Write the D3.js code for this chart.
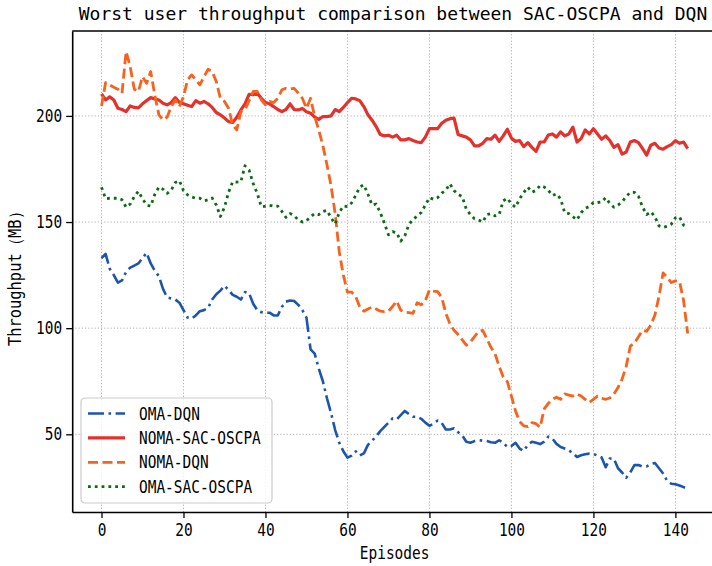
<!DOCTYPE html>
<html>
<head>
<meta charset="utf-8">
<script src="https://cdn.jsdelivr.net/npm/d3@7/dist/d3.min.js"></script>
<style>
body { margin: 0; background: #fff; }
svg text { font-family: "DejaVu Sans Mono", monospace; fill: #000; }
</style>
</head>
<body>
<svg width="712" height="566"></svg>
<script>
// values, one per episode (0..143)
var omaDqn = [133, 135, 128, 125, 121.5, 122.5, 126.5, 128.5, 129.5, 130.5,
  133, 135.5, 130.5, 127, 124.5, 118.5, 114.5, 114, 113.5, 112,
  108.5, 105, 104.5, 106, 108, 108.5, 109.5, 113.5, 116, 117.7,
  120, 118, 115.7, 114.8, 113.5, 117, 116.5, 111.5, 108.5, 107.5,
  107.3, 107.3, 106, 106, 110, 112.5, 113, 112.8, 111, 108.5,
  105, 90, 88, 81, 75, 67, 60, 52, 46, 42,
  39, 40, 42, 40, 41, 45, 47, 49, 51.5, 53.5,
  55.5, 57.5, 57, 59, 61, 59.5, 58.3, 58.3, 57.3, 55.5,
  54, 55, 56.5, 55.3, 52.3, 52.3, 52.8, 51, 49.5, 46.5,
  46, 46.8, 47.3, 47, 46.8, 46.3, 46, 47.2, 46, 44,
  44.5, 46, 43.3, 42.2, 45, 46.5, 46, 45.4, 46.5, 48.9,
  48, 45.5, 44, 43.3, 42.5, 41, 39.3, 40.1, 40.6, 40.9,
  40.7, 40, 39.1, 34.5, 38.6, 38.5, 34, 32, 29.5, 32,
  35.5, 35.5, 34.8, 34.9, 36, 36.5, 34, 31.5, 28, 26.7,
  26.5, 25.9, 25.1, 24.8];

var nomaSac = [210.4, 207.5, 209, 207.5, 203.6, 203, 202, 204.7, 204, 203.8,
  205.7, 207.2, 208.6, 208, 207.5, 206, 205.2, 206.3, 208.6, 206.3,
  205.7, 205, 204.4, 207.2, 206, 206.8, 205.7, 204, 201.6, 200.5,
  199, 197.3, 196.9, 199.4, 202.8, 205.7, 210.2, 210, 210.7, 208.3,
  206.3, 205.7, 204.4, 203, 202, 203, 205.7, 203, 202.8, 203.5,
  202, 201.3, 199.4, 198.4, 199.7, 199.7, 200, 203, 202, 204,
  206.3, 208.3, 208, 207.2, 204.4, 200.5, 198, 195, 191.2, 190.6,
  190.9, 190, 190.9, 188.7, 188.7, 189.3, 188.4, 187.7, 187.4, 190,
  194, 194, 194, 196.5, 198, 198.7, 199, 191.2, 190.6, 190,
  188.7, 185.9, 185.9, 187.1, 189.3, 189, 190.9, 188, 190.6, 193.7,
  189.5, 188, 188.4, 185.5, 187.4, 185.2, 183.3, 187.7, 187.7, 191,
  191.5, 190, 192.5, 190.6, 191.5, 194.7, 187.7, 189.3, 193.4, 191.5,
  194, 191.5, 189, 190.6, 188.4, 185.2, 186.5, 182, 183, 187.7,
  188.4, 187.4, 184.6, 181.5, 186.2, 187.1, 184.9, 184.3, 185.5, 186.5,
  188.4, 187.1, 187.7, 184.6];

var nomaDqn = [204.7, 215.7, 214.6, 213.5, 212.6, 210.7, 230.3, 223.2, 212.6, 211.5,
  218.5, 215.4, 220.9, 209.9, 200.5, 198.1, 199.4, 204.4, 207.5, 204.4,
  209.1, 217, 219.3, 217, 214.6, 218.5, 222, 220.9, 216.2, 208.3,
  206.8, 203.6, 195.8, 193.4, 202, 202.8, 207.2, 211.5, 211.5, 207.5,
  205.2, 206.8, 206.3, 208.3, 212.3, 213, 212.6, 213, 210.7, 208.3,
  203.6, 208.3, 199.7, 193.4, 186, 177, 167, 154, 136, 125,
  117, 117, 115, 110, 108, 109, 110, 109, 108, 107.8,
  108, 110.2, 112.8, 108.5, 107.5, 107.3, 107, 112, 111, 113,
  118, 117.5, 117.2, 114.5, 107, 102, 99, 97, 94.5, 92,
  93.5, 96, 98.5, 99, 95, 91, 88, 82, 77, 74.8,
  68, 61, 56, 54, 53.6, 55.5, 55, 53.3, 62, 64.6,
  66.5, 67.5, 66.5, 69, 68.5, 68, 69, 68, 66.5, 65,
  66.5, 68, 67, 66.5, 67.1, 69, 72, 76, 82, 91.5,
  93, 96, 99, 98.5, 101.5, 106.2, 115, 126, 124, 121.5,
  122.3, 122, 113, 97.5];

var omaSac = [166.4, 161, 161.2, 161.2, 161.2, 160.5, 157, 158.5, 162, 164.5,
  161, 158, 157.5, 163, 166.5, 165.5, 163.5, 165, 168.6, 169.5,
  164.8, 162.8, 161.8, 161.2, 161.2, 160, 160.5, 161.3, 158, 152.6,
  157, 164, 169, 168.8, 169, 176.5, 174.5, 168.2, 163.5, 157.2,
  157.5, 157.9, 157.5, 157.5, 155, 152.2, 154, 153, 151, 150,
  150.6, 152.5, 154, 153.5, 155, 155.5, 152, 149.1, 154.5, 157.6,
  157.3, 159, 162.5, 166.5, 167.5, 163.1, 158, 158.5, 154.5, 149.5,
  144, 145.5, 145, 141, 143.5, 149, 151, 153, 154.5, 158,
  161.5, 160.7, 161.5, 163.6, 165, 168, 164.8, 163, 162, 156,
  153.5, 151.5, 151, 150, 153.5, 154, 152.9, 153.5, 160, 161.2,
  158.5, 157, 161, 163.9, 166.4, 164, 164.9, 167.2, 166.5, 165,
  162.5, 163.3, 160.9, 154.4, 154, 152.5, 151, 154.4, 156.5, 157.3,
  159.2, 159.2, 159.5, 161.5, 158.8, 157, 158, 159.5, 162, 164,
  164, 162, 157, 153.5, 154.9, 152.5, 148.2, 147.5, 148, 149,
  152, 152.5, 148.5, 147.5];

var episodes = d3.range(omaDqn.length);
var xTicks = [0, 20, 40, 60, 80, 100, 120, 140];
var yTicks = [50, 100, 150, 200];
var legendNames = ["OMA-DQN", "NOMA-SAC-OSCPA", "NOMA-DQN", "OMA-SAC-OSCPA"];

// legend order is the drawing order too
var series = [
  { name: legendNames[0], values: omaDqn, color: "#1c55ae", width: 2.6, dash: "16,4.5,2.6,4.5" },
  { name: legendNames[1], values: nomaSac, color: "#e5312b", width: 3.2, dash: null },
  { name: legendNames[2], values: nomaDqn, color: "#f7621c", width: 2.8, dash: "10,4.5" },
  { name: legendNames[3], values: omaSac, color: "#0a6b12", width: 2.8, dash: "2.8,4" }
];

var svg = d3.select("svg");
// plot box (right edge falls just outside the picture, like the original)
var plotL = 72.2, plotR = 717, plotT = 31, plotB = 512;

var x = d3.scaleLinear().domain([-7.15, 150.15]).range([plotL, plotR]);
var y = d3.scaleLinear().domain([13.4, 240]).range([plotB, plotT]);

// squeeze monospace text to the character width of the original font
function fitText(sel, charW) {
  sel.attr("textLength", function() { return this.textContent.length * charW; })
    .attr("lengthAdjust", "spacingAndGlyphs");
}

// dotted grid
svg.append("g").selectAll("line")
  .data(xTicks)
  .enter().append("line")
    .attr("x1", x).attr("x2", x)
    .attr("y1", plotT).attr("y2", plotB)
    .attr("stroke", "#b0b0b0").attr("stroke-width", 1).attr("stroke-dasharray", "1.2,2");

svg.append("g").selectAll("line")
  .data(yTicks)
  .enter().append("line")
    .attr("x1", plotL).attr("x2", plotR)
    .attr("y1", y).attr("y2", y)
    .attr("stroke", "#b0b0b0").attr("stroke-width", 1).attr("stroke-dasharray", "1.2,2");

// the four curves
var line = d3.line()
  .x(function(d, i) { return x(episodes[i]); })
  .y(function(d) { return y(d); });

svg.append("g").selectAll("path")
  .data(series)
  .enter().append("path")
    .attr("d", function(s) { return line(s.values); })
    .attr("fill", "none")
    .attr("stroke", function(s) { return s.color; })
    .attr("stroke-width", function(s) { return s.width; })
    .attr("stroke-dasharray", function(s) { return s.dash; })
    .attr("stroke-linejoin", "round");

// axes
var xAxis = svg.append("g")
  .attr("transform", "translate(0," + plotB + ")")
  .call(d3.axisBottom(x).tickValues(xTicks).tickFormat(d3.format("d")).tickSize(6).tickSizeOuter(0).tickPadding(5));

var yAxis = svg.append("g")
  .attr("transform", "translate(" + plotL + ",0)")
  .call(d3.axisLeft(y).tickValues(yTicks).tickSize(6).tickSizeOuter(0).tickPadding(4));

svg.append("line")
  .attr("x1", plotL).attr("x2", plotR)
  .attr("y1", plotT).attr("y2", plotT)
  .attr("stroke", "#000").attr("stroke-width", 1.6);

[xAxis, yAxis].forEach(function(ax) {
  ax.select(".domain").attr("stroke", "#000").attr("stroke-width", 1.6);
  ax.selectAll(".tick line").attr("stroke", "#000").attr("stroke-width", 1.3);
  ax.selectAll(".tick text")
    .attr("font-family", "DejaVu Sans Mono")
    .attr("font-size", 17)
    .call(fitText, 8.7);
});
xAxis.selectAll(".tick text").attr("dy", "0.75em");

// title and axis labels (title sized so its own width already fits)
svg.append("text")
  .attr("x", 393).attr("y", 20)
  .attr("text-anchor", "middle")
  .attr("font-size", 18)
  .text("Worst user throughput comparison between SAC-OSCPA and DQN");

svg.append("text")
  .attr("x", (plotL + plotR) / 2).attr("y", 559)
  .attr("text-anchor", "middle")
  .attr("font-size", 17)
  .text("Episodes")
  .call(fitText, 8.7);

svg.append("text")
  .attr("transform", "translate(21,275) rotate(-90)")
  .attr("text-anchor", "middle")
  .attr("font-size", 17)
  .attr("textLength", 142)
  .attr("lengthAdjust", "spacingAndGlyphs")
  .text("Throughput（MB）");

// legend box, lower left
var legendBox = svg.append("g").attr("transform", "translate(81,398)");

legendBox.append("rect")
  .attr("width", 191).attr("height", 105)
  .attr("rx", 4)
  .attr("fill", "#fff").attr("fill-opacity", 0.8)
  .attr("stroke", "#cccccc").attr("stroke-width", 1.2);

var legend = legendBox.selectAll("g.item")
  .data(series)
  .enter().append("g")
    .attr("class", "item")
    .attr("transform", function(d, i) { return "translate(0," + (15.5 + i * 24.4) + ")"; });

legend.append("line")
  .attr("x1", 7).attr("x2", 44)
  .attr("stroke", function(s) { return s.color; })
  .attr("stroke-width", function(s) { return s.width; })
  .attr("stroke-dasharray", function(s) { return s.dash; });

legend.append("text")
  .attr("x", 58)
  .attr("dy", "0.36em")
  .attr("font-size", 17)
  .text(function(s) { return s.name; })
  .call(fitText, 8.7);
</script>
</body>
</html>
